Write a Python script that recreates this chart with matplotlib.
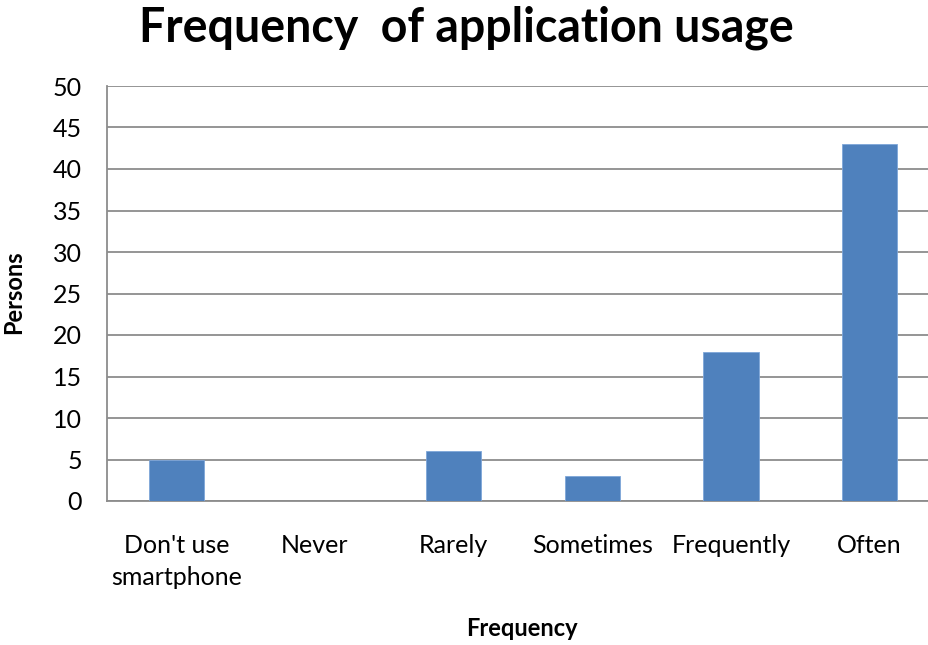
import matplotlib.pyplot as plt
import numpy as np

plt.rcParams['font.family'] = ['Lato', 'DejaVu Sans']

categories = ["Don't use\nsmartphone", "Never", "Rarely", "Sometimes", "Frequently", "Often"]
persons = [5, 0, 6, 3, 18, 43]
yticks = list(range(0, 51, 5))

W, H = 929, 645
fig = plt.figure(figsize=(W / 100, H / 100), dpi=100)
# plot area runs a little past the right edge of the figure
left, right, top, bottom = 107, 939, 86, 501
ax = fig.add_axes([left / W, 1 - bottom / H, (right - left) / W, (bottom - top) / H])

x = np.arange(len(categories))
ax.bar(x, persons, width=0.4, color='#4F81BD', edgecolor='#7EA6D9', linewidth=0.6, zorder=3)

ax.set_xlim(-0.5, len(categories) - 0.5)
ax.set_ylim(0, 50)
ax.set_yticks(yticks)
ax.set_xticks(x)
ax.set_xticklabels(categories, fontsize=18, linespacing=1.45)
ax.tick_params(axis='y', labelsize=18, length=0, pad=18)
ax.tick_params(axis='x', length=0, pad=24)

ax.grid(axis='y', color='#8C8C8C', linewidth=1.3, zorder=0)
for side in ('top', 'right'):
    ax.spines[side].set_visible(False)
for side in ('left', 'bottom'):
    ax.spines[side].set_color('#8C8C8C')
    ax.spines[side].set_linewidth(1.3)

# axis titles placed in figure pixels
fig.text(14 / W, 1 - 292 / H, 'Persons', rotation=90, ha='center', va='center',
         fontsize=17, fontweight='bold')
fig.text(522 / W, 1 - 628 / H, 'Frequency', ha='center', va='center',
         fontsize=17, fontweight='bold')
fig.text(466 / W, 1 - 28 / H, 'Frequency  of application usage', ha='center', va='center',
         fontsize=33.5, fontweight='bold')

fig.savefig('out.png', dpi=100)
